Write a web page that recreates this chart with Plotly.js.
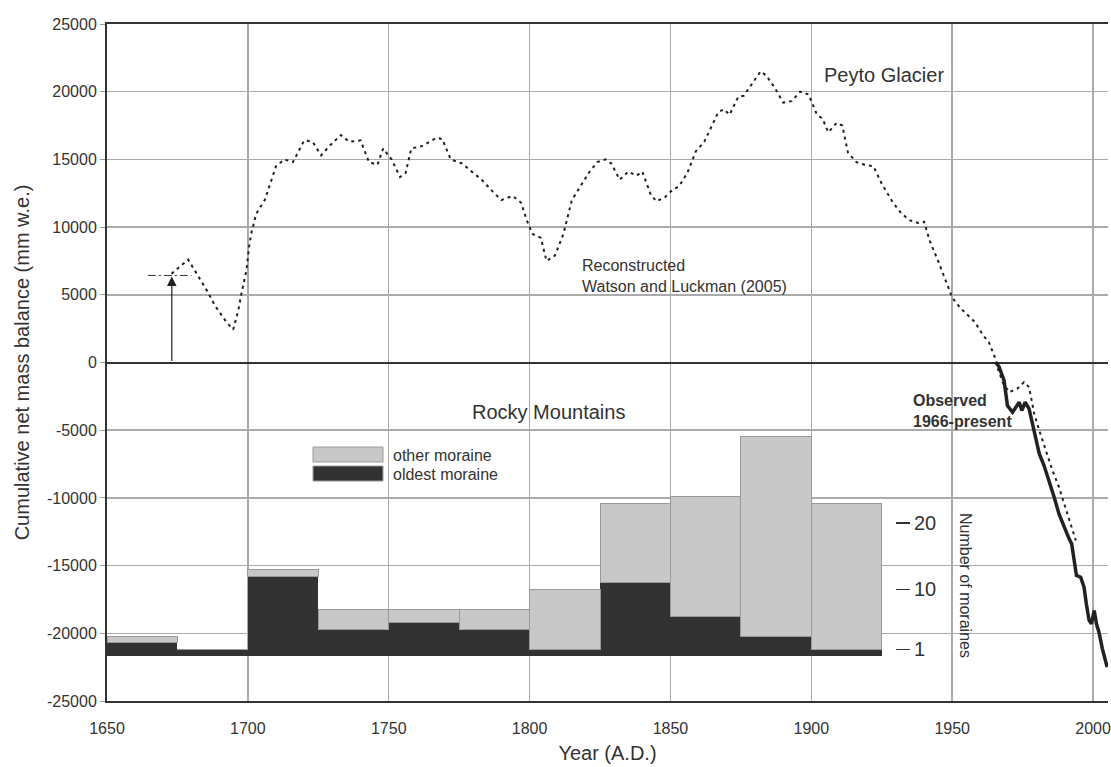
<!DOCTYPE html>
<html>
<head>
<meta charset="utf-8">
<script src="https://cdn.plot.ly/plotly-3.0.1.min.js"></script>
<style>html,body{margin:0;padding:0;background:#fff;}#chart{width:1111px;height:767px;}</style>
</head>
<body>
<div id="chart"></div>
<script>
// ---------- data ----------
const reconYears = [1672.9,1678.8,1682.3,1685.8,1688.3,1692.4,1694.8,1696.6,1697.8,1699.5,1700.4,1701.3,1703,1706,1710,1713,1716,1720,1723,1726,1729,1733,1736,1740,1743,1746,1748,1751,1754,1756,1758,1762,1767,1769,1772,1776,1780,1783,1787,1790,1794,1797,1799,1801,1804,1806,1809,1812,1815,1818,1821,1824,1827,1829,1832,1835,1838,1840,1843,1845,1848,1851,1853,1856,1859,1862,1864,1867,1869,1871,1874,1876,1879,1882,1884,1887,1890,1893,1896,1899,1902,1904,1906,1909,1911,1913,1916,1919,1922,1925,1929,1932,1935,1938,1940,1942,1945,1948,1950,1953,1955,1958,1961,1963,1965.5,1966,1968,1970.2,1973.1,1975.5,1977.3,1979.1,1980.9,1983.2,1985.6,1987.9,1990.3,1992,1993.9];
const reconValues = [6550,7600,6400,5190,4210,2980,2440,3840,5190,6800,8520,9620,11000,12000,14500,15000,14800,16400,16300,15300,16000,16800,16300,16400,14800,14600,15800,15000,13700,14000,15800,16000,16600,16500,15000,14700,14000,13500,12600,12000,12300,11800,10500,9500,9200,7500,7900,9500,12000,13000,14000,14800,15000,14700,13500,14100,13800,14100,12400,11900,12200,12800,13000,14000,15600,16300,17200,18500,18700,18300,19600,19700,20600,21500,21200,20300,19200,19300,20000,19800,18300,18000,17000,17700,17500,15500,14800,14600,14500,13200,11800,11000,10500,10300,10400,9000,7500,5800,4800,4000,3600,3000,2000,1500,200,-340,-1500,-2190,-1940,-1450,-1820,-3790,-5020,-6500,-7980,-9210,-10690,-11910,-13150];

const obsYears = [1965.5,1966.6,1968.4,1969.6,1971.4,1972.6,1973.8,1974.7,1975.9,1977.3,1979.1,1980.9,1982.6,1984.4,1986.2,1987.9,1989.7,1991.5,1992.4,1993.2,1994.1,1995.6,1996.8,1997.6,1998.6,1999.4,2000.4,2001.2,2002.1,2003.3,2005];
const obsValues = [0,-300,-1330,-3180,-3670,-3300,-2930,-3550,-2930,-3420,-5020,-6740,-7610,-8720,-9950,-11180,-12160,-13020,-13390,-14620,-15730,-15860,-16600,-17820,-19050,-19300,-18320,-19300,-19920,-21150,-22500];

// moraine counts per 25-year bin
const binCentres = [1662.5,1687.5,1712.5,1737.5,1762.5,1787.5,1812.5,1837.5,1862.5,1887.5,1912.5];
const oldestMoraine = [2,1,12,4,5,4,1,11,6,3,1];
const otherMoraine = [1,0,1,3,2,3,9,12,18,30,22];

// reference marker for the start of the reconstruction
const arrowYear = [1673];
const arrowValue = [6430];
const refLineYears = [1664.5, 1680];

const xTickVals = [1650,1700,1750,1800,1850,1900,1950,2000];
const yTickVals = [25000,20000,15000,10000,5000,0,-5000,-10000,-15000,-20000,-25000];
const yTickText = ["25000","20000","15000","10000","5000","0","-5000","-10000","-15000","-20000","-25000"];
const moraineTickVals = [1,10,20];
const moraineTickText = ["1","10","20"];

// ---------- layout helpers (pixel -> paper) ----------
const L = 107, T = 24, W = 1001, H = 677;
const px = x => (x - L) / W;
const py = y => (T + H - y) / H;
const FONT = "Liberation Sans, Arial, sans-serif";
const TXT = "#333";

const traces = [
  {x: binCentres, y: oldestMoraine, type: "bar", yaxis: "y2", width: 25,
   marker: {color: "#323232", line: {width: 0}}, hoverinfo: "skip"},
  {x: binCentres, y: otherMoraine, type: "bar", yaxis: "y2", width: 25,
   marker: {color: "#c8c8c8", line: {color: "#9a9a9a", width: 1}}, hoverinfo: "skip"},
  {x: reconYears, y: reconValues, type: "scatter", mode: "lines",
   line: {color: "#222", width: 2, dash: "3px,4px"}},
  {x: obsYears, y: obsValues, type: "scatter", mode: "lines",
   line: {color: "#222", width: 3.5}},
  {x: refLineYears, y: [arrowValue[0], arrowValue[0]], type: "scatter", mode: "lines",
   line: {color: "#333", width: 1, dash: "8px,3px,2px,3px"}}
];

const layout = {
  width: 1111, height: 767,
  margin: {l: L, r: 1111 - L - W, t: T, b: 767 - T - H, pad: 0},
  paper_bgcolor: "#fff", plot_bgcolor: "#fff",
  showlegend: false, barmode: "stack", bargap: 0,
  font: {family: FONT, color: TXT, size: 16},
  xaxis: {
    range: [1650, 2005.3], tickvals: xTickVals, ticks: "", ticklabelstandoff: 12,
    showgrid: true, gridcolor: "#ababab", gridwidth: 1.5,
    showline: true, linecolor: "#333", linewidth: 2, mirror: true,
    zeroline: false, tickfont: {size: 16, color: TXT},
    title: {text: "Year (A.D.)", font: {size: 20, color: TXT}, standoff: 10}
  },
  yaxis: {
    range: [-25000, 25000], tickvals: yTickVals, ticktext: yTickText,
    ticks: "outside", ticklen: 5, tickcolor: "#999", tickwidth: 1,
    showgrid: true, gridcolor: "#ababab", gridwidth: 1.5,
    showline: true, linecolor: "#333", linewidth: 2,
    zeroline: true, zerolinecolor: "#333", zerolinewidth: 2,
    tickfont: {size: 16, color: TXT},
    title: {text: "Cumulative net mass balance (mm w.e.)", font: {size: 20, color: TXT}, standoff: 12}
  },
  yaxis2: {
    overlaying: "y", anchor: "free", side: "right", position: px(895),
    range: [-6.77, 95.04], tickvals: moraineTickVals, ticktext: moraineTickText,
    ticks: "outside", ticklen: 14, tickwidth: 1.5, tickcolor: "#333",
    showgrid: false, showline: false, zeroline: false,
    tickfont: {size: 20, color: TXT}
  },
  shapes: [
    {type: "rect", xref: "paper", yref: "paper", x0: px(313), x1: px(383), y0: py(462), y1: py(447),
     fillcolor: "#c8c8c8", line: {color: "#9a9a9a", width: 1}},
    {type: "rect", xref: "paper", yref: "paper", x0: px(313), x1: px(383), y0: py(481), y1: py(466),
     fillcolor: "#323232", line: {color: "#9a9a9a", width: 1}}
  ],
  annotations: [
    {x: arrowYear[0], y: arrowValue[0] - 80, ax: arrowYear[0], ay: 0, xref: "x", yref: "y", axref: "x", ayref: "y",
     showarrow: true, arrowhead: 2, arrowsize: 1.6, arrowwidth: 1.2, arrowcolor: "#222", text: ""},
    {text: "Peyto Glacier", xref: "paper", yref: "paper", x: px(822), y: py(75), xanchor: "left", yanchor: "middle",
     showarrow: false, font: {size: 20, color: TXT}},
    {text: "Reconstructed<br>Watson and Luckman (2005)", xref: "paper", yref: "paper", x: px(580), y: py(276),
     xanchor: "left", yanchor: "middle", align: "left", showarrow: false, font: {size: 16, color: TXT}},
    {text: "Rocky Mountains", xref: "paper", yref: "paper", x: px(470), y: py(412), xanchor: "left", yanchor: "middle",
     showarrow: false, font: {size: 20, color: TXT}},
    {text: "<b>Observed<br>1966-present</b>", xref: "paper", yref: "paper", x: px(911), y: py(411),
     xanchor: "left", yanchor: "middle", align: "left", showarrow: false, font: {size: 16, color: TXT}},
    {text: "Number of moraines", xref: "paper", yref: "paper", x: px(966), y: py(585), textangle: 90,
     xanchor: "center", yanchor: "middle", showarrow: false, font: {size: 16, color: TXT}},
    {text: "other moraine", xref: "paper", yref: "paper", x: px(391), y: py(455), xanchor: "left", yanchor: "middle",
     showarrow: false, font: {size: 16, color: TXT}},
    {text: "oldest moraine", xref: "paper", yref: "paper", x: px(391), y: py(474), xanchor: "left", yanchor: "middle",
     showarrow: false, font: {size: 16, color: TXT}}
  ]
};

Plotly.newPlot("chart", traces, layout, {displayModeBar: false, staticPlot: true});
</script>
</body>
</html>
